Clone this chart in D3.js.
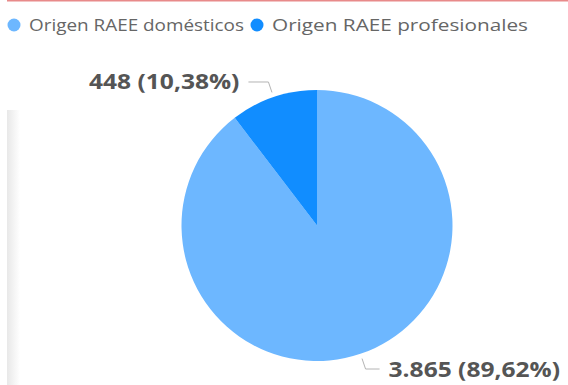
<!DOCTYPE html>
<html><head><meta charset="utf-8">
<script src="https://cdn.jsdelivr.net/npm/d3@7"></script>
<style>html,body{margin:0;padding:0;background:#fff;}svg{display:block;}</style>
</head><body>
<svg id="c" width="568" height="385"></svg>
<script>
const categories = ["Origen RAEE domésticos", "Origen RAEE profesionales"];
const values = [3865, 448];
const labels = ["3.865 (89,62%)", "448 (10,38%)"];
const colors = ["#6db7ff", "#118dff"];

const svg = d3.select("#c");
const W = 568, H = 385;
const FONT = "'Open Sans', 'Noto Sans', sans-serif";
const SX = 1.17; // horizontal stretch of the reference's font

// card shadow & top accent
const defs = svg.append("defs");
const g1 = defs.append("linearGradient").attr("id","sh").attr("x1","0").attr("x2","1");
g1.append("stop").attr("offset","0").attr("stop-color","#e8e8e8");
g1.append("stop").attr("offset","1").attr("stop-color","#ffffff");
svg.append("rect").attr("x",7).attr("y",110).attr("width",13).attr("height",H-110).attr("fill","url(#sh)");
svg.append("rect").attr("x",7).attr("y",0).attr("width",W-7).attr("height",1.5).attr("fill","#e88a8a");

// legend
const leg = svg.append("g").attr("font-family",FONT).attr("font-size",16).attr("fill","#666");
const legX = [14, 257];
const legW = [215, 256];
categories.forEach((c,i)=>{
  leg.append("circle").attr("cx",legX[i]).attr("cy",25).attr("r",6.5).attr("fill",colors[i]);
  leg.append("text").attr("x",legX[i]+15).attr("y",31)
    .attr("textLength",legW[i]).attr("lengthAdjust","spacingAndGlyphs").text(c);
});

// pie
const cx = 317, cy = 225.5, R = 135.5;
const pie = d3.pie().sort(null).value(d=>d.v);
const data = pie(categories.map((c,i)=>({c, v: values[i], i})));
const arc = d3.arc().innerRadius(0).outerRadius(R);
const pg = svg.append("g").attr("transform",`translate(${cx},${cy})`);
pg.selectAll("path").data(data).join("path").attr("d",arc).attr("fill",d=>colors[d.data.i]);

// labels with leader lines
const lab = svg.append("g").attr("font-family",FONT).attr("font-size",21).attr("font-weight",700).attr("fill","#555");
const lines = svg.append("g").attr("fill","none").attr("stroke","#b4b4b4").attr("stroke-width",1);
const hLen = [14, 20];
data.forEach((d,k)=>{
  const i = d.data.i;
  const a = (d.startAngle + d.endAngle)/2;
  const p1 = [cx + Math.sin(a)*(R+5), cy - Math.cos(a)*(R+5)];
  const p2 = [cx + Math.sin(a)*(R+16), cy - Math.cos(a)*(R+16)];
  const dir = Math.sin(a) >= 0 ? 1 : -1;
  const p3 = [p2[0] + dir*hLen[i], p2[1]];
  lines.append("path").attr("d",`M${p1[0]},${p1[1]} L${p2[0]},${p2[1]} L${p3[0]},${p3[1]}`);
  const tx = p3[0] + dir*9;
  lab.append("text")
    .attr("transform",`translate(${tx},${p2[1]+7.5}) scale(${SX},1)`)
    .attr("text-anchor", dir > 0 ? "start" : "end")
    .text(labels[i]);
});
</script>
</body></html>
